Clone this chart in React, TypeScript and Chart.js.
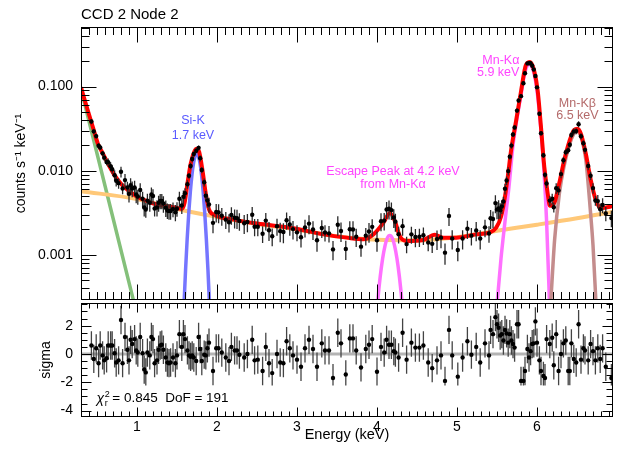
import React, { useEffect, useRef } from 'react';
import { Chart, registerables } from 'chart.js';

Chart.register(...registerables);

const FONT = "'Liberation Sans', Arial, Helvetica, sans-serif";

// ---------- data ----------
const energy = [
  0.43, 0.46, 0.49, 0.52, 0.54, 0.57, 0.59, 0.62, 0.64, 0.67,
  0.69, 0.72, 0.74, 0.77, 0.80, 0.82, 0.85, 0.88, 0.90, 0.92,
  0.94, 0.97, 0.99, 1.01, 1.04, 1.07, 1.09, 1.11, 1.13, 1.16,
  1.18, 1.20, 1.22, 1.25, 1.27, 1.29, 1.31, 1.33, 1.36, 1.38,
  1.40, 1.42, 1.45, 1.48, 1.50, 1.53, 1.56, 1.58, 1.60, 1.63,
  1.65, 1.67, 1.69, 1.71, 1.74, 1.77, 1.79, 1.81, 1.84, 1.86,
  1.88, 1.90, 1.95, 1.99, 2.02, 2.06, 2.11, 2.15, 2.18, 2.22,
  2.25, 2.28, 2.34, 2.38, 2.44, 2.47, 2.51, 2.57, 2.61, 2.65,
  2.69, 2.75, 2.79, 2.83, 2.87, 2.91, 2.95, 3.00, 3.05, 3.10,
  3.15, 3.20, 3.25,
  3.31, 3.35, 3.40, 3.45, 3.51, 3.55, 3.61, 3.66, 3.70, 3.74,
  3.80, 3.86, 3.90, 3.94, 4.00, 4.05, 4.09, 4.12, 4.15, 4.18,
  4.21, 4.23, 4.27, 4.32, 4.37, 4.43, 4.48, 4.53, 4.58, 4.64,
  4.69, 4.75, 4.80, 4.85, 4.90, 4.94, 5.01, 5.07, 5.13, 5.18,
  5.24, 5.29, 5.35, 5.40, 5.42, 5.45, 5.48, 5.50, 5.52, 5.54,
  5.56, 5.58, 5.60, 5.62, 5.64, 5.66, 5.68, 5.70, 5.72, 5.75,
  5.77, 5.80, 5.83, 5.85, 5.88, 5.90, 5.92, 5.94, 5.96, 5.98,
  6.00, 6.03, 6.05, 6.08, 6.10, 6.12, 6.16, 6.19, 6.21, 6.24,
  6.27, 6.30, 6.33, 6.36, 6.39, 6.41, 6.43, 6.46, 6.49, 6.52,
  6.55, 6.58, 6.60, 6.64, 6.67, 6.70, 6.73, 6.76, 6.79, 6.82,
  6.86, 6.93,
];

const counts = [
  0.0385, 0.0294, 0.0258, 0.0198, 0.0189, 0.0161, 0.0143, 0.0127, 0.0126, 0.0113,
  0.0104, 0.00883, 0.0076, 0.00711, 0.00973, 0.00614, 0.00773, 0.00631, 0.0053, 0.00673,
  0.00615, 0.00632, 0.00521, 0.00494, 0.00589, 0.00464, 0.00366, 0.00346, 0.00441, 0.00416,
  0.00521, 0.005, 0.00356, 0.00365, 0.00415, 0.00437, 0.00437, 0.00407, 0.00362, 0.00337,
  0.00331, 0.00332, 0.0035, 0.00321, 0.00353, 0.00464, 0.00385, 0.0049, 0.00539, 0.0069,
  0.00871, 0.0114, 0.0138, 0.0158, 0.0173, 0.0187, 0.0141, 0.0102, 0.0073, 0.00505,
  0.00443, 0.00397, 0.0024, 0.00323, 0.00318, 0.00291, 0.00262, 0.00244, 0.00298, 0.00276,
  0.00273, 0.00253, 0.00237, 0.00246, 0.003, 0.00216, 0.00216, 0.00178, 0.00255, 0.00196,
  0.00166, 0.00219, 0.00191, 0.00187, 0.00258, 0.00229, 0.00202, 0.00185, 0.00162, 0.00211,
  0.00235, 0.002, 0.00149, 0.00208, 0.00184, 0.0018, 0.00116, 0.00228, 0.00192, 0.00117,
  0.00201, 0.002, 0.00164, 0.00125, 0.00169, 0.00189, 0.00215, 0.00149, 0.00251, 0.00255,
  0.00346, 0.00353, 0.0034, 0.00278, 0.00248, 0.00176, 0.00219, 0.00134, 0.00175, 0.00163,
  0.00164, 0.00171, 0.0014, 0.00135, 0.00154, 0.0016, 0.00106, 0.0029, 0.00156, 0.00114,
  0.00156, 0.00204, 0.00169, 0.00195, 0.00156, 0.00212, 0.00179, 0.00272, 0.00267, 0.00412,
  0.00345, 0.00355, 0.00339, 0.00376, 0.0043, 0.0061, 0.00765, 0.00989, 0.0147, 0.0199,
  0.027, 0.0327, 0.0519, 0.0684, 0.0771, 0.1096, 0.1445, 0.189, 0.19, 0.19,
  0.177, 0.16, 0.134, 0.098, 0.0475, 0.0279, 0.0153, 0.00893, 0.00704, 0.00441,
  0.00464, 0.00368, 0.00619, 0.00583, 0.00912, 0.0133, 0.0166, 0.0175, 0.0204, 0.0266,
  0.0292, 0.0296, 0.0358, 0.0257, 0.0212, 0.0177, 0.0114, 0.00873, 0.00621, 0.00443,
  0.00435, 0.00348, 0.00392, 0.00311, 0.00273,
];

const countErr = [
  0.0027, 0.0021, 0.0018, 0.0014, 0.0013, 0.0011, 0.0012, 0.0011, 0.0014, 0.0013,
  0.0012, 0.0013, 0.0011, 0.001, 0.0014, 0.0009, 0.0014, 0.0011, 0.0011, 0.0014,
  0.0013, 0.0013, 0.0011, 0.001, 0.0012, 0.001, 0.0008, 0.0007, 0.0009, 0.0009,
  0.0011, 0.001, 0.0007, 0.0008, 0.0009, 0.0009, 0.0009, 0.0009, 0.0008, 0.0007,
  0.0007, 0.0007, 0.0007, 0.0007, 0.0007, 0.001, 0.0008, 0.0009, 0.0008, 0.0008,
  0.0007, 0.001, 0.0012, 0.0011, 0.0012, 0.0013, 0.0012, 0.0009, 0.0008, 0.0007,
  0.0008, 0.0008, 0.0006, 0.0008, 0.0008, 0.0007, 0.0006, 0.0006, 0.0007, 0.0007,
  0.0007, 0.0006, 0.0006, 0.0006, 0.0007, 0.0005, 0.0005, 0.0004, 0.0006, 0.0005,
  0.0004, 0.0005, 0.0005, 0.0005, 0.0006, 0.0006, 0.0005, 0.0004, 0.0004, 0.0005,
  0.0006, 0.0005, 0.0004, 0.0005, 0.0004, 0.0004, 0.0003, 0.0006, 0.0005, 0.0003,
  0.0005, 0.0005, 0.0004, 0.0003, 0.0004, 0.0005, 0.0005, 0.0004, 0.0006, 0.0006,
  0.0008, 0.0009, 0.0008, 0.0007, 0.0006, 0.0004, 0.0005, 0.0003, 0.0004, 0.0004,
  0.0004, 0.0004, 0.0003, 0.0003, 0.0004, 0.0004, 0.0003, 0.0007, 0.0004, 0.0003,
  0.0004, 0.0005, 0.0004, 0.0005, 0.0004, 0.0005, 0.0004, 0.0007, 0.0006, 0.001,
  0.0008, 0.0009, 0.0007, 0.0007, 0.0006, 0.0009, 0.0009, 0.0011, 0.0012, 0.0017,
  0.0019, 0.0018, 0.0029, 0.0038, 0.0039, 0.0045, 0.006, 0.0078, 0.0079, 0.0079,
  0.0073, 0.0066, 0.0056, 0.0041, 0.0026, 0.0016, 0.0011, 0.0008, 0.0008, 0.0006,
  0.0007, 0.0005, 0.0009, 0.0007, 0.001, 0.0013, 0.0014, 0.0015, 0.0017, 0.0023,
  0.0025, 0.0025, 0.003, 0.0022, 0.0018, 0.0018, 0.0013, 0.001, 0.0009, 0.0006,
  0.0008, 0.0006, 0.0008, 0.0006, 0.0006,
];

const sigma = [
  0.6, -0.35, 0.4, -0.65, 0.6, -0.1, -0.45, -0.3, 0.6, 0.6,
  0.6, 0.05, -0.6, -0.45, 2.4, -0.65, 1.2, 0.3, -0.45, 1.0,
  0.7, 1.05, 0.25, 0.1, 1.2, 0.05, -1.1, -1.3, 0.1, -0.1,
  1.2, 1.05, -0.65, -0.45, 0.3, 0.6, 0.65, 0.3, -0.25, -0.6,
  -0.65, -0.6, -0.25, -0.65, -0.1, 1.4, 0.5, 1.4, 1.05, 0.25,
  -0.1, -0.2, -0.1, -0.25, -0.5, 1.2, 0.35, -0.5, -0.05, -0.1,
  0.4, 0.8, -1.2, 0.4, 0.4, 0.1, -0.25, -0.5, 0.5, 0.25,
  0.25, -0.05, -0.25, 0, 1.0, -0.45, -0.4, -1.2, 0.5, -0.65,
  -1.35, 0, -0.6, -0.65, 0.9, 0.4, -0.1, -0.4, -0.9, 0.4,
  1.0, 0.35, -0.9,
  0.75, 0.25, 0.25, -1.7, 1.5, 0.75, -1.45, 1.1, 1.1, 0.25,
  -0.95, 0.35, 0.65, 1.05, -1.25, 0.5, 0.1, 1.0, 0.65, 0.65,
  0.2, 0.1, -0.25, 1.5, -0.4, 0.8, 0.45, 0.45, 0.6, -0.6,
  -1.0, -0.45, -0.1, -1.9, 1.7, -0.1, -1.6, -0.25, 0.9, -0.05,
  0.5, -0.6, 0.75, -0.1, 1.7, 1.4, 2.6, 2.1, 1.85, 1.3,
  1.4, 0.95, 1.7, 1.45, 0.8, 1.4, 0.95, 0.7, 0.45, 2.1,
  2.1, -1.9, -1.9, -1.2, 0.35, -0.25, 0.2, 0.7, 0.75, 2.3,
  0.8, -0.45, -1.2, -1.55, -1.7, 1.05, 0.7, 1.15, -0.8, 1.4,
  -1.2, 0, 0.75, 0.95, -1.2, -1.2, 0.75, -0.35, -0.6, 2.1,
  -0.4, 0.4, 0.25, -0.45, 0.7, 0.2, -0.45, 0.4, -0.35, 0.4,
  -0.9, -1.7,
];
const sigmaErr = 1;

// total model (red)
const modelE = [
  0.30, 0.386, 0.449, 0.511, 0.573, 0.636, 0.719, 0.801, 0.884, 1.009,
  1.133, 1.258, 1.382, 1.507, 1.556, 1.594, 1.631, 1.672, 1.714, 1.747,
  1.777, 1.818, 1.859, 1.901, 1.963, 2.212, 2.502, 2.917, 3.333, 3.623,
  3.830, 3.955, 4.079, 4.161, 4.224, 4.286, 4.369, 4.577, 4.722, 4.830,
  4.992, 5.241, 5.406, 5.490, 5.552, 5.593, 5.635, 5.676, 5.739, 5.801,
  5.863, 5.913, 5.966, 6.009, 6.050, 6.091, 6.133, 6.162, 6.215, 6.278,
  6.340, 6.402, 6.464, 6.507, 6.548, 6.610, 6.672, 6.734, 6.797, 6.971,
];
const modelC = [
  0.098, 0.0516, 0.0329, 0.021, 0.016, 0.0122, 0.00888, 0.00696, 0.00591, 0.00485,
  0.00432, 0.00394, 0.00377, 0.0036, 0.0035, 0.00412, 0.00709, 0.0122, 0.01673, 0.0183,
  0.01673, 0.01016, 0.0054, 0.00344, 0.003, 0.00262, 0.00235, 0.0021, 0.00175, 0.0016,
  0.00153, 0.00175, 0.0024, 0.00315, 0.00251, 0.00167, 0.00146, 0.0015, 0.00173, 0.0016,
  0.0016, 0.00175, 0.00183, 0.0021, 0.00288, 0.00451, 0.0085, 0.01747, 0.0394, 0.0888,
  0.183, 0.197, 0.1526, 0.0888, 0.0329, 0.01114, 0.0054, 0.00383, 0.00412, 0.00709,
  0.01333, 0.0219, 0.0306, 0.0315, 0.0275, 0.016, 0.00775, 0.00451, 0.0036, 0.00383,
];

// continuum (orange)
const contE = [0.30, 1.0, 1.5, 2.0, 2.5, 3.0, 3.5, 4.0, 4.5, 5.0, 5.5, 6.0, 6.5, 6.95];
const contC = [0.0057, 0.0046, 0.0035, 0.00282, 0.00233, 0.002, 0.00166, 0.00151, 0.00149, 0.00162, 0.00193, 0.00228, 0.00272, 0.00325];

// soft component (green)
const softE = [0.30, 1.10];
const softC = [0.094, 0.00008];

// Si-K line (blue)
const siE = [1.567, 1.587, 1.607, 1.627, 1.647, 1.667, 1.687, 1.707, 1.727, 1.747, 1.767, 1.787, 1.807, 1.827, 1.847, 1.867, 1.887, 1.907, 1.927];
const siC = [0.0000822, 0.000248, 0.000659, 0.00153, 0.00314, 0.00565, 0.00891, 0.01233, 0.015, 0.016, 0.015, 0.01233, 0.00891, 0.00565, 0.00314, 0.00153, 0.000659, 0.000248, 0.0000822];

// escape peak (magenta)
const escE = [3.95, 3.98, 4.01, 4.04, 4.07, 4.10, 4.13, 4.16, 4.19, 4.22, 4.25, 4.28, 4.31, 4.34, 4.37];
const escC = [0.000053, 0.000133, 0.00029, 0.000548, 0.0009, 0.00128, 0.00159, 0.0017, 0.00159, 0.00128, 0.0009, 0.000548, 0.00029, 0.000133, 0.000053];

// Mn-K alpha (magenta)
const kaE = [5.47, 5.505, 5.55, 5.60, 5.65, 5.70, 5.75, 5.80, 5.85, 5.90, 5.95, 6.00, 6.05, 6.09, 6.12, 6.155, 6.18];
const kaC = [0.0001, 0.00029, 0.0009, 0.0025, 0.0065, 0.02, 0.042, 0.08, 0.15, 0.185, 0.16, 0.09, 0.03, 0.009, 0.0025, 0.00029, 0.00008];

// Mn-K beta (brown)
const kbE = [6.14, 6.174, 6.22, 6.28, 6.34, 6.40, 6.46, 6.50, 6.55, 6.61, 6.67, 6.70, 6.735, 6.77];
const kbC = [0.00008, 0.00029, 0.0015, 0.0054, 0.0115, 0.0195, 0.0275, 0.029, 0.025, 0.0135, 0.0031, 0.0013, 0.00029, 0.00006];

// axes
const X_MIN = 0.3;
const X_MAX = 6.95;
const TOP_MIN = 0.00029;
const TOP_MAX = 0.512;
const RES_MIN = -4.45;
const RES_MAX = 3.6;
const xTicks = [1, 2, 3, 4, 5, 6];
const yTopTicks = [0.001, 0.01, 0.1];
const yTopTickLabels = ['0.001', '0.010', '0.100'];
const yResTicks = [-4, -2, 0, 2];

const lineLabels = [
  { lines: ['Si-K', '1.7 keV'], x: 1.70, y: [0.039, 0.0265], color: '#5a5aff', align: 'center' },
  { lines: ['Escape Peak at 4.2 keV', 'from Mn-K\u03b1'], x: 4.2, y: [0.0097, 0.0069], color: '#ff44ff', align: 'center' },
  { lines: ['Mn-K\u03b1', '5.9 keV'], x: 5.78, y: [0.204, 0.147], color: '#ff44ff', align: 'right' },
  { lines: ['Mn-K\u03b2', '6.5 keV'], x: 6.505, y: [0.0636, 0.0448], color: '#b46a6a', align: 'center' },
];

const pts = (xs: number[], ys: number[]) => xs.map((x, i) => ({ x, y: ys[i] }));

// ---------- plugins ----------
const errorBarPlugin = {
  id: 'errorBars',
  beforeDatasetDraw(chart: any, args: any) {
    const ds = chart.data.datasets[args.index];
    if (!ds.errorBars) return;
    const { ctx, chartArea: a } = chart;
    const xs = chart.scales.x;
    const ys = chart.scales.y;
    ctx.save();
    ctx.beginPath();
    ctx.rect(a.left, a.top, a.right - a.left, a.bottom - a.top);
    ctx.clip();
    ctx.strokeStyle = ds.errorColor;
    ctx.lineWidth = 1.3;
    ctx.beginPath();
    ds.data.forEach((p: any, i: number) => {
      const e = Array.isArray(ds.errorBars) ? ds.errorBars[i] : ds.errorBars;
      const px = xs.getPixelForValue(p.x);
      const lo = Math.max(p.y - e, ys.min * 0.5);
      ctx.moveTo(px, ys.getPixelForValue(p.y + e));
      ctx.lineTo(px, ys.getPixelForValue(lo));
    });
    ctx.stroke();
    ctx.restore();
  },
};

function makeFramePlugin(kind: 'top' | 'res') {
  return {
    id: 'frame_' + kind,
    afterDraw(chart: any) {
      const { ctx, chartArea: a } = chart;
      const xs = chart.scales.x;
      const ys = chart.scales.y;
      const L = Math.round(a.left) + 0.5;
      const R = Math.round(a.right) - 0.5;
      const T = Math.round(a.top) + 0.5;
      const B = Math.round(a.bottom) - 0.5;
      ctx.save();
      ctx.strokeStyle = '#000';
      ctx.lineWidth = 1;
      ctx.beginPath();
      const xMaj = kind === 'top' ? 15 : 9;
      const xMin = kind === 'top' ? 7.5 : 5;
      for (let i = 4; i <= 69; i++) {
        const px = Math.round(xs.getPixelForValue(i / 10)) + 0.5;
        const len = i % 10 === 0 ? xMaj : xMin;
        ctx.moveTo(px, T); ctx.lineTo(px, T + len);
        ctx.moveTo(px, B); ctx.lineTo(px, B - len);
      }
      if (kind === 'top') {
        for (let e = -4; e <= -1; e++) {
          for (let k = 1; k <= 9; k++) {
            const v = k * Math.pow(10, e);
            if (v < TOP_MIN || v > TOP_MAX) continue;
            const py = Math.round(ys.getPixelForValue(v)) + 0.5;
            const len = k === 1 ? 15 : 8;
            ctx.moveTo(L, py); ctx.lineTo(L + len, py);
            ctx.moveTo(R, py); ctx.lineTo(R - len, py);
          }
        }
      } else {
        for (let i = -8; i <= 7; i++) {
          const v = i / 2;
          const py = Math.round(ys.getPixelForValue(v)) + 0.5;
          const len = i % 4 === 0 ? 10 : 6;
          ctx.moveTo(L, py); ctx.lineTo(L + len, py);
          ctx.moveTo(R, py); ctx.lineTo(R - len, py);
        }
      }
      ctx.stroke();
      ctx.strokeRect(L, T, R - L, B - T);
      ctx.restore();
    },
  };
}

const labelPlugin = {
  id: 'lineLabels',
  afterDatasetsDraw(chart: any) {
    const { ctx } = chart;
    const xs = chart.scales.x;
    const ys = chart.scales.y;
    ctx.save();
    ctx.font = `12.5px ${FONT}`;
    ctx.textBaseline = 'middle';
    lineLabels.forEach((lab) => {
      ctx.fillStyle = lab.color;
      ctx.textAlign = lab.align as CanvasTextAlign;
      lab.lines.forEach((t, i) => {
        ctx.fillText(t, xs.getPixelForValue(lab.x), ys.getPixelForValue(lab.y[i]));
      });
    });
    ctx.restore();
  },
};

const statPlugin = {
  id: 'stats',
  afterDatasetsDraw(chart: any) {
    const { ctx } = chart;
    const x0 = chart.scales.x.getPixelForValue(0.495);
    const yc = chart.scales.y.getPixelForValue(-3.15);
    ctx.save();
    ctx.fillStyle = '#000';
    ctx.textBaseline = 'middle';
    ctx.textAlign = 'left';
    ctx.font = `italic 14px ${FONT}`;
    ctx.fillText('\u03c7', x0, yc + 1);
    const w = ctx.measureText('\u03c7').width;
    ctx.font = `9px ${FONT}`;
    ctx.fillText('2', x0 + w + 0.5, yc - 4);
    ctx.fillText('r', x0 + w + 0.5, yc + 5);
    ctx.font = `13.5px ${FONT}`;
    ctx.fillText('= 0.845  DoF = 191', x0 + w + 8, yc);
    ctx.restore();
  },
};

const fixVertical = (w: number) => (s: any) => {
  s.width = w;
  s.paddingTop = 0;
  s.paddingBottom = 0;
};
const fixHorizontal = (h: number) => (s: any) => {
  s.height = h;
  s.paddingLeft = 0;
  s.paddingRight = 0;
};

// ---------- component ----------
export default function App() {
  const topRef = useRef<HTMLCanvasElement>(null);
  const botRef = useRef<HTMLCanvasElement>(null);

  useEffect(() => {
    Chart.defaults.font.family = FONT;
    Chart.defaults.color = '#000';

    const lineDs = (label: string, data: any[], color: string, width: number) => ({
      label,
      data,
      borderColor: color,
      borderWidth: width,
      pointRadius: 0,
      fill: false,
      cubicInterpolationMode: 'monotone',
    });

    const top = new Chart(topRef.current!, {
      type: 'line',
      data: {
        datasets: [
          {
            label: 'data',
            data: pts(energy, counts),
            showLine: false,
            pointRadius: 2.2,
            pointBackgroundColor: '#000',
            pointBorderWidth: 0,
            errorBars: countErr,
            errorColor: '#2a2a2a',
          } as any,
          lineDs('model', pts(modelE, modelC), '#ff0000', 4),
          lineDs('Mn-Kb', pts(kbE, kbC), '#c48c8c', 3.5),
          lineDs('Mn-Ka', pts(kaE, kaC), '#ff70ff', 3.5),
          lineDs('escape', pts(escE, escC), '#ff70ff', 3.5),
          lineDs('Si-K', pts(siE, siC), '#7575ff', 3.5),
          lineDs('continuum', pts(contE, contC), '#ffc878', 4),
          lineDs('soft', pts(softE, softC), '#84c07a', 3.5),
        ],
      },
      options: {
        responsive: false,
        animation: false,
        events: [],
        layout: { padding: { left: 0, right: 2, top: 0, bottom: 1 } },
        plugins: {
          legend: { display: false },
          tooltip: { enabled: false },
          title: {
            display: true,
            text: 'CCD 2 Node 2',
            align: 'start',
            fullSize: false,
            color: '#000',
            font: { family: FONT, size: 15, weight: 'normal' },
            padding: { top: 6, bottom: 3 },
          },
        },
        scales: {
          x: { type: 'linear', min: X_MIN, max: X_MAX, bounds: 'data', display: false },
          y: {
            type: 'logarithmic',
            min: TOP_MIN,
            max: TOP_MAX,
            bounds: 'data',
            grid: { display: false, drawTicks: false },
            border: { display: false },
            ticks: {
              padding: 8,
              autoSkip: false,
              color: '#000',
              font: { family: FONT, size: 14 },
              callback: (v: any) => {
                const i = yTopTicks.findIndex((t) => Math.abs(t - v) < t * 1e-6);
                return i >= 0 ? yTopTickLabels[i] : '';
              },
            },
            afterBuildTicks: (s: any) => { s.ticks = yTopTicks.map((v) => ({ value: v })); },
            afterFit: fixVertical(81),
            title: {
              display: true,
              text: 'counts s\u207b\u00b9 keV\u207b\u00b9',
              color: '#000',
              font: { family: FONT, size: 14 },
              padding: { top: 13, bottom: 0 },
            },
          },
        },
      } as any,
      plugins: [errorBarPlugin, labelPlugin, makeFramePlugin('top')],
    });

    const bot = new Chart(botRef.current!, {
      type: 'line',
      data: {
        datasets: [
          {
            label: 'residuals',
            data: pts(energy, sigma),
            showLine: false,
            pointRadius: 2.2,
            pointBackgroundColor: '#000',
            pointBorderWidth: 0,
            errorBars: sigmaErr,
            errorColor: '#444444',
          } as any,
          {
            label: 'zero',
            data: [{ x: X_MIN, y: 0 }, { x: X_MAX, y: 0 }],
            borderColor: '#b4b4b4',
            borderWidth: 3,
            pointRadius: 0,
          },
        ],
      },
      options: {
        responsive: false,
        animation: false,
        events: [],
        layout: { padding: { left: 0, right: 2, top: 7, bottom: 0 } },
        plugins: { legend: { display: false }, tooltip: { enabled: false } },
        scales: {
          x: {
            type: 'linear',
            min: X_MIN,
            max: X_MAX,
            bounds: 'data',
            grid: { display: false, drawTicks: false },
            border: { display: false },
            ticks: {
              padding: 2,
              autoSkip: false,
              maxRotation: 0,
              color: '#000',
              font: { family: FONT, size: 14 },
              callback: (v: any) => String(v),
            },
            afterBuildTicks: (s: any) => { s.ticks = xTicks.map((v) => ({ value: v })); },
            afterFit: fixHorizontal(36),
            title: {
              display: true,
              text: 'Energy (keV)',
              color: '#000',
              font: { family: FONT, size: 14.5 },
              padding: { top: 0, bottom: 9 },
            },
          },
          y: {
            type: 'linear',
            min: RES_MIN,
            max: RES_MAX,
            bounds: 'data',
            grid: { display: false, drawTicks: false },
            border: { display: false },
            ticks: {
              padding: 8,
              autoSkip: false,
              color: '#000',
              font: { family: FONT, size: 14 },
              callback: (v: any) => String(v),
            },
            afterBuildTicks: (s: any) => { s.ticks = yResTicks.map((v) => ({ value: v })); },
            afterFit: fixVertical(81),
            title: {
              display: true,
              text: 'sigma',
              color: '#000',
              font: { family: FONT, size: 14 },
              padding: { top: 38, bottom: 0 },
            },
          },
        },
      } as any,
      plugins: [errorBarPlugin, statPlugin, makeFramePlugin('res')],
    });

    return () => {
      top.destroy();
      bot.destroy();
    };
  }, []);

  return (
    <div style={{ position: 'fixed', left: 0, top: 0, width: 617, height: 453, background: '#fff' }}>
      <canvas
        ref={topRef}
        width={617}
        height={304}
        style={{ position: 'absolute', left: 0, top: 0, width: 617, height: 304 }}
      />
      <canvas
        ref={botRef}
        width={617}
        height={157}
        style={{ position: 'absolute', left: 0, top: 296, width: 617, height: 157 }}
      />
    </div>
  );
}
